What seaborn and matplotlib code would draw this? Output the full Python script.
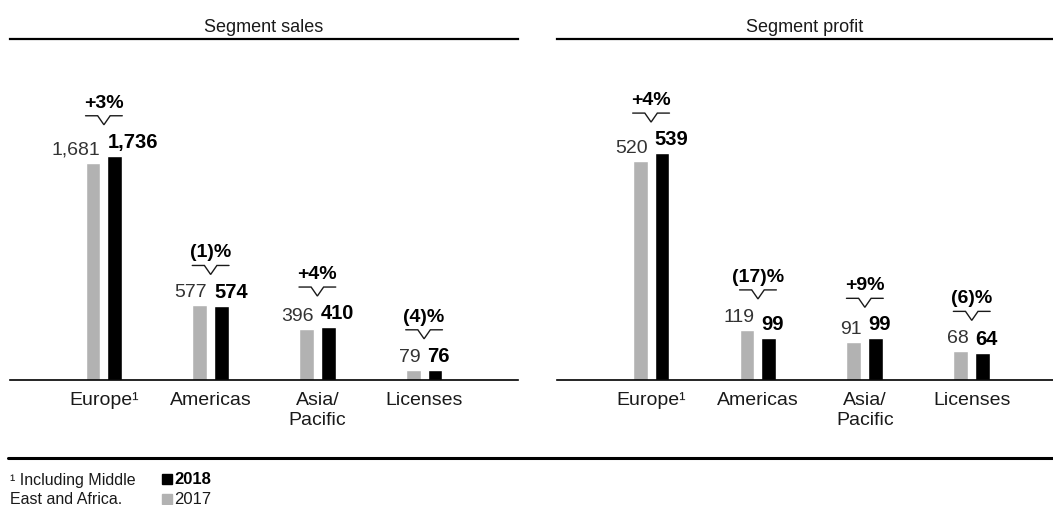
import matplotlib
matplotlib.use("Agg")
import matplotlib.pyplot as plt
from matplotlib.patches import Rectangle
import seaborn as sns
import pandas as pd

# ---- data ----
categories = ["Europe\u00b9", "Americas", "Asia/\nPacific", "Licenses"]
years = ["2017", "2018"]
sales_2017 = [1681, 577, 396, 79]
sales_2018 = [1736, 574, 410, 76]
sales_change = ["+3%", "(1)%", "+4%", "(4)%"]
profit_2017 = [520, 119, 91, 68]
profit_2018 = [539, 99, 99, 64]
profit_change = ["+4%", "(17)%", "+9%", "(6)%"]
panel_titles = ["Segment sales", "Segment profit"]

sns.set_theme(style="white")
plt.rcParams["font.family"] = ["Liberation Sans", "DejaVu Sans"]

W, H = 1053, 506
fig = plt.figure(figsize=(W / 100, H / 100), dpi=100)

GRAY = "#b2b2b2"
BLACK = "#000000"
TXT = "#1a1a1a"

def fx(px):
    return px / W

def fy(py):
    return 1 - py / H

top_px, base_px = 40, 381
ax_h_px = base_px - top_px

panels = [
    dict(title=panel_titles[0], v17=sales_2017, v18=sales_2018, chg=sales_change,
         left=10, right=518, ytop=2640, xlim=(-0.88, 3.88)),
    dict(title=panel_titles[1], v17=profit_2017, v18=profit_2018, chg=profit_change,
         left=557, right=1053, ytop=810, xlim=(-0.88, 3.76)),
]

for p in panels:
    ax = fig.add_axes([fx(p["left"]), fy(base_px), fx(p["right"] - p["left"]), ax_h_px / H])
    df = pd.DataFrame({
        "cat": categories * 2,
        "year": [years[0]] * 4 + [years[1]] * 4,
        "val": list(p["v17"]) + list(p["v18"]),
    })
    sns.barplot(data=df, x="cat", y="val", hue="year", hue_order=years,
                palette={years[0]: GRAY, years[1]: BLACK}, width=0.41, gap=0.32,
                ax=ax, legend=False, saturation=1)
    ax.set_xlim(*p["xlim"])
    ax.set_ylim(0, p["ytop"])
    ax.set_xlabel("")
    ax.set_ylabel("")
    ax.set_yticks([])
    ax.tick_params(axis="x", length=0, pad=8, labelsize=14, labelcolor=TXT)
    for lbl in ax.get_xticklabels():
        lbl.set_linespacing(1.2)
    for s in ["left", "right"]:
        ax.spines[s].set_visible(False)
    ax.spines["top"].set_linewidth(1.6)
    ax.spines["top"].set_color(BLACK)
    ax.spines["bottom"].set_linewidth(1.2)
    ax.spines["bottom"].set_color(BLACK)
    ax.set_title(p["title"], fontsize=13, color=TXT, pad=6)

    k = p["ytop"] / ax_h_px  # data units per pixel
    c17, c18 = ax.containers[0], ax.containers[1]
    for i, (b17, b18) in enumerate(zip(c17.patches, c18.patches)):
        h17, h18 = b17.get_height(), b18.get_height()
        ax.text(b17.get_x() + b17.get_width(), h17 + 5 * k,
                f"{p['v17'][i]:,}", ha="right", va="bottom", fontsize=14,
                color="#333333")
        ax.text(b18.get_x(), h18 + 5 * k, f"{p['v18'][i]:,}", ha="left",
                va="bottom", fontsize=14.5, fontweight="bold", color=BLACK)
        # bracket
        x0 = b17.get_x()
        x1 = b18.get_x() + b18.get_width()
        xc = (x0 + x1) / 2
        yb = max(h17, h18) + 40 * k
        hw = (x1 - x0) * 0.17
        ax.plot([x0, xc - hw, xc, xc + hw, x1], [yb, yb, yb - 9 * k, yb, yb],
                color=TXT, lw=1.0, solid_joinstyle="miter")
        ax.text(xc, yb + 5 * k, p["chg"][i], ha="center", va="bottom",
                fontsize=14, fontweight="bold", color=BLACK)

# bottom rule
fig.add_artist(plt.Line2D([fx(8), fx(1053)], [fy(459), fy(459)], color=BLACK, lw=2.2))

# footnote
fig.text(fx(10), fy(481), "\u00b9 Including Middle", fontsize=11.5,
         color=TXT, va="center", ha="left")
fig.text(fx(10), fy(500), "East and Africa.", fontsize=11.5,
         color=TXT, va="center", ha="left")

# legend
fig.add_artist(Rectangle((fx(162), fy(485)), fx(10), 10 / H, color=BLACK,
                         transform=fig.transFigure))
fig.text(fx(174), fy(480), years[1], fontsize=12, fontweight="bold", color=BLACK, va="center")
fig.add_artist(Rectangle((fx(162), fy(505)), fx(10), 10 / H, color=GRAY,
                         transform=fig.transFigure))
fig.text(fx(174), fy(500), years[0], fontsize=12, color=TXT, va="center")

fig.savefig("out.png", dpi=100)
